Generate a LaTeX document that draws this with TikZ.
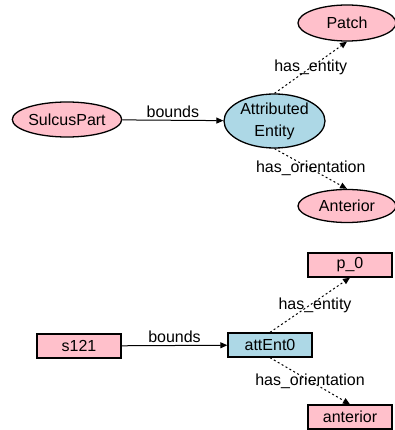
\documentclass[tikz,border=0pt]{standalone}
\usepackage{fontspec}
\setmainfont{Liberation Sans}
\usetikzlibrary{arrows.meta}
\definecolor{pinkfill}{RGB}{255,192,203}
\definecolor{bluefill}{RGB}{173,216,230}
\tikzset{
  every node/.style={font=\fontsize{16}{22}\selectfont},
  ell/.style={ellipse, draw=black, line width=1.3pt, inner sep=0pt},
  boxnode/.style={rectangle, draw=black, line width=1.3pt, inner sep=0pt, minimum width=84pt, minimum height=24pt},
  pinkn/.style={fill=pinkfill},
  bluen/.style={fill=bluefill},
  solidedge/.style={line width=1pt, -{Triangle[length=7pt,width=6pt]}},
  dotedge/.style={line width=1pt, dash pattern=on 2pt off 2.5pt, -{Triangle[length=7pt,width=6pt]}},
  lbl/.style={inner sep=1pt}
}
\usetikzlibrary{shapes.geometric}
\begin{document}
\begin{tikzpicture}[x=1pt,y=1pt]
\useasboundingbox (0,0) rectangle (395,-430);
% top graph
\node[ell,pinkn,minimum width=100pt,minimum height=35pt] (sp) at (67,-119.5) {SulcusPart};
\node[ell,bluen,minimum width=101pt,minimum height=54pt,align=center] (ae) at (274.5,-121) {Attributed\\Entity};
\node[ell,pinkn,minimum width=98pt,minimum height=36pt] (patch) at (347,-23) {Patch};
\node[ell,pinkn,minimum width=98pt,minimum height=33pt] (ant) at (347,-206) {Anterior};
\draw[solidedge] (sp) -- node[above,lbl,yshift=1pt] {bounds} (ae);
\draw[dotedge] (ae.north) -- node[lbl] {has\_entity} (patch.south);
\draw[dotedge] (ae.south) -- node[lbl] {has\_orientation} (ant.north);
% bottom graph
\node[boxnode,pinkn] (s) at (79,-346) {s121};
\node[boxnode,bluen] (att) at (270,-345) {attEnt0};
\node[boxnode,pinkn] (p) at (350,-265) {p\_0};
\node[boxnode,pinkn] (a) at (350,-417) {anterior};
\draw[solidedge] (s) -- node[above,lbl,yshift=1pt] {bounds} (att);
\draw[dotedge] (att.north) -- node[lbl,xshift=5pt] {has\_entity} (p.south);
\draw[dotedge] (att.south) -- node[lbl] {has\_orientation} (a.north);
\end{tikzpicture}
\end{document}
